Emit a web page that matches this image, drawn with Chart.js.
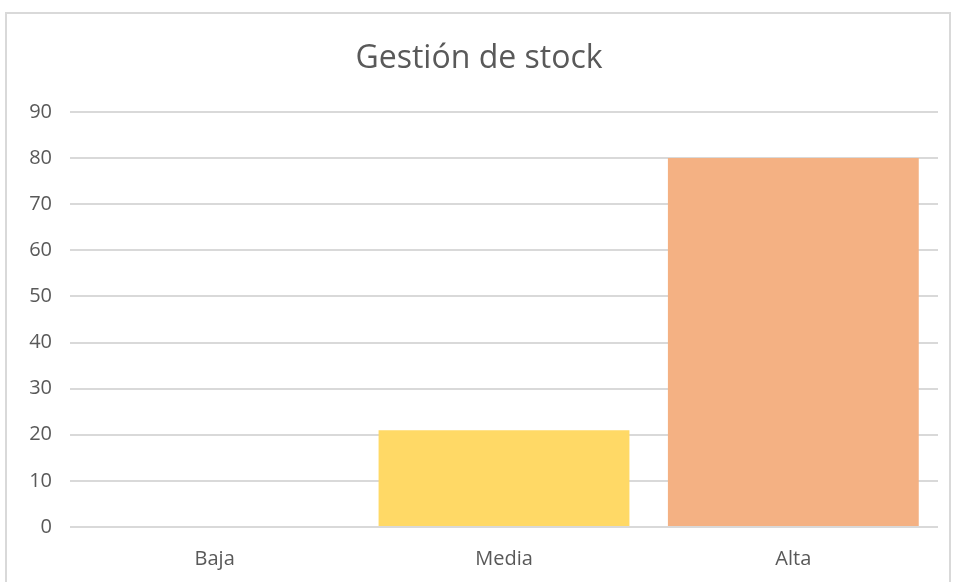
<!DOCTYPE html>
<html>
<head>
<meta charset="utf-8">
<script src="https://cdn.jsdelivr.net/npm/chart.js@4"></script>
<style>
    html, body { margin: 0; padding: 0; background: #ffffff; }
    body { width: 955px; height: 582px; position: relative; overflow: hidden; }
    #frame {
        position: absolute; left: 5px; top: 12px; width: 946px; height: 600px;
        border: 2px solid #d9d9d9; box-sizing: border-box;
    }
    #wrap { position: absolute; left: 0; top: 0; width: 955px; height: 582px; }
</style>
</head>
<body>
<div id="frame"></div>
<div id="wrap"><canvas id="stock-chart"></canvas></div>
<script>
    // datos del grafico
    var categories = ['Baja', 'Media', 'Alta'];
    var stockValues = [0, 21, 80];
    var barColors = ['#5b9bd5', '#ffd966', '#f4b183'];
    var yTicks = [0, 10, 20, 30, 40, 50, 60, 70, 80, 90];

    var fontFamily = '"Open Sans", "Liberation Sans", sans-serif';

    var ctx = document.getElementById('stock-chart');
    new Chart(ctx, {
        type: 'bar',
        data: {
            labels: categories,
            datasets: [{
                label: 'Gestión de stock',
                data: stockValues,
                backgroundColor: barColors,
                borderWidth: 0,
                barPercentage: 0.867,
                categoryPercentage: 1
            }]
        },
        options: {
            responsive: true,
            maintainAspectRatio: false,
            animation: false,
            layout: {
                padding: { left: 20, right: 17, top: 0, bottom: 0 }
            },
            plugins: {
                legend: { display: false },
                tooltip: { enabled: false },
                title: {
                    display: true,
                    text: 'Gestión de stock',
                    color: '#595959',
                    font: { family: fontFamily, size: 32, weight: 'normal' },
                    padding: { top: 40, bottom: 33.6 }
                }
            },
            scales: {
                x: {
                    grid: { display: false, drawTicks: false },
                    border: { display: false },
                    ticks: {
                        color: '#595959',
                        padding: 20,
                        font: { family: fontFamily, size: 20 }
                    },
                    afterFit: function(scale) { scale.height = 55; }
                },
                y: {
                    min: 0,
                    max: 90,
                    afterBuildTicks: function(scale) {
                        scale.ticks = yTicks.map(function(v) { return { value: v }; });
                    },
                    grid: { color: '#d9d9d9', lineWidth: 2, drawTicks: false },
                    border: { display: false },
                    ticks: {
                        color: '#595959',
                        padding: 18,
                        font: { family: fontFamily, size: 20 }
                    },
                    afterFit: function(scale) { scale.width = 50; }
                }
            }
        }
    });
</script>
</body>
</html>
